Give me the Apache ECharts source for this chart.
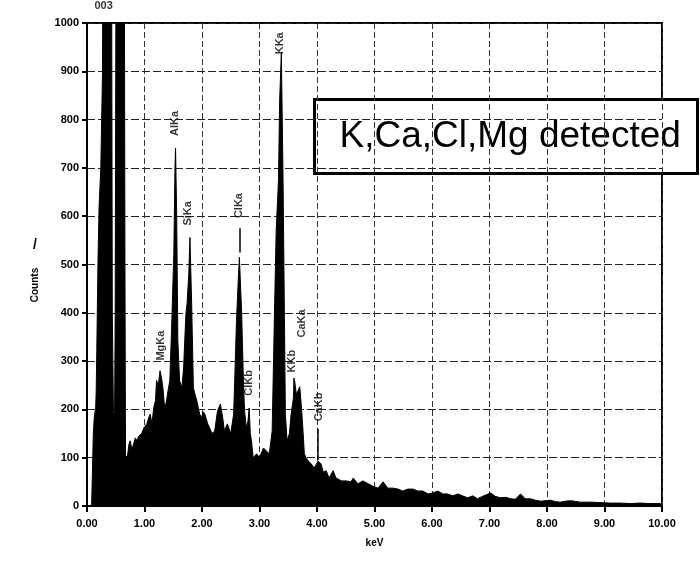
<!DOCTYPE html>
<html>
<head>
<meta charset="utf-8">
<title>EDS spectrum</title>
<script src="https://cdn.jsdelivr.net/npm/echarts@6/dist/echarts.min.js"></script>
<style>
  html, body { margin: 0; padding: 0; background: #fff; }
  #chart { width: 700px; height: 563px; }
</style>
</head>
<body>
<div id="chart"></div>
<script>
// spectrum (keV / counts)
const energy = [
  0.00, 0.08, 0.10, 0.11, 0.13, 0.15, 0.16, 0.17, 0.19, 0.21, 0.24, 0.27, 0.29, 0.36, 0.42, 0.43, 0.44, 0.46, 0.48, 0.49,
  0.50, 0.52, 0.57, 0.63, 0.65, 0.66, 0.67, 0.70, 0.73, 0.75, 0.78, 0.81, 0.84, 0.87, 0.90, 0.95, 0.99, 1.04, 1.08, 1.10,
  1.13, 1.16, 1.19, 1.21, 1.24, 1.27, 1.30, 1.32, 1.35, 1.38, 1.40, 1.44, 1.47, 1.51, 1.53, 1.54, 1.56, 1.58, 1.61, 1.65,
  1.68, 1.72, 1.74, 1.77, 1.79, 1.82, 1.85, 1.88, 1.91, 1.96, 1.99, 2.02, 2.05, 2.10, 2.14, 2.17, 2.22, 2.27, 2.32, 2.36,
  2.39, 2.44, 2.50, 2.55, 2.57, 2.60, 2.63, 2.65, 2.69, 2.72, 2.74, 2.77, 2.80, 2.82, 2.84, 2.86, 2.89, 2.95, 3.00, 3.04,
  3.07, 3.12, 3.17, 3.22, 3.26, 3.29, 3.33, 3.35, 3.38, 3.41, 3.43, 3.45, 3.48, 3.52, 3.55, 3.59, 3.61, 3.64, 3.67, 3.70,
  3.73, 3.76, 3.78, 3.81, 3.85, 3.90, 3.95, 3.99, 4.02, 4.07, 4.11, 4.16, 4.21, 4.28, 4.33, 4.38, 4.42, 4.51, 4.59, 4.63,
  4.71, 4.80, 4.89, 4.97, 5.06, 5.15, 5.23, 5.32, 5.41, 5.49, 5.58, 5.67, 5.75, 5.84, 5.93, 6.01, 6.10, 6.19, 6.27, 6.36,
  6.45, 6.53, 6.62, 6.71, 6.79, 6.88, 7.02, 7.10, 7.19, 7.28, 7.37, 7.45, 7.54, 7.62, 7.71, 7.80, 7.89, 8.06, 8.15, 8.23,
  8.32, 8.41, 8.58, 8.75, 8.93, 9.10, 9.27, 9.45, 9.62, 9.79, 9.97, 10.00
]
const counts = [
  0, 0, 0, 150, 190, 200, 240, 320, 500, 620, 700, 900, 2000, 3000, 2000, 1000, 400, 190, 195, 400,
  900, 2000, 3000, 2000, 1100, 500, 105, 100, 128, 135, 118, 128, 141, 135, 145, 150, 162, 170, 185, 190,
  170, 203, 218, 260, 250, 280, 262, 245, 203, 215, 232, 260, 363, 523, 700, 741, 600, 342, 260, 245,
  286, 398, 419, 480, 556, 420, 245, 230, 218, 190, 183, 195, 190, 170, 160, 150, 155, 197, 211, 183,
  155, 170, 150, 190, 265, 384, 467, 515, 398, 260, 197, 162, 176, 203, 150, 135, 100, 108, 100, 112,
  120, 114, 108, 155, 398, 570, 674, 840, 938, 674, 431, 190, 135, 150, 190, 224, 260, 232, 238, 247,
  203, 150, 108, 100, 93, 87, 79, 87, 93, 87, 70, 73, 58, 73, 58, 55, 52, 52, 50, 58,
  46, 52, 46, 41, 37, 50, 37, 37, 35, 31, 35, 35, 31, 31, 25, 27, 31, 25, 25, 21,
  25, 21, 17, 21, 15, 20, 27, 20, 17, 18, 15, 14, 25, 15, 15, 12, 10, 12, 9, 8,
  10, 11, 8, 8, 7, 6, 6, 5, 6, 5, 5, 5
]

// peak identification labels
const peakNames = ['003', 'MgKa', 'AlKa', 'SiKa', 'ClKa', 'ClKb', 'KKa', 'KKb', 'CaKa', 'CaKb']
const peakEnergy = [0.29, 1.28, 1.53, 1.75, 2.65, 2.81, 3.36, 3.57, 3.74, 4.04]
const peakLabelY = [1035, 332, 792, 606, 622, 255, 958, 300, 378, 205]

// short leader lines under some labels: [keV, from, to]
const leaders = [
  [2.65, 575, 525],
  [3.60, 265, 225],
  [4.02, 160, 95]
]

const boxText = 'K,Ca,Cl,Mg detected'

const chart = echarts.init(document.getElementById('chart'))
const FONT = 'Liberation Sans, Arial, sans-serif'
const tickFont = { color: '#000', fontSize: 11, fontWeight: 'bold', fontFamily: FONT }

// label data, the top "003" mark stays horizontal
const labelData = peakEnergy.map((e, i) => ({
  value: [e, peakLabelY[i]],
  name: peakNames[i],
  label: { rotate: i === 0 ? 0 : 90 }
}))

chart.setOption({
  animation: false,
  backgroundColor: '#fff',
  grid: {
    left: 87, right: 38, top: 23, bottom: 57,
    show: true, borderColor: '#000', borderWidth: 2
  },
  xAxis: {
    type: 'value',
    min: 0, max: 10, interval: 1,
    name: 'keV',
    nameLocation: 'middle',
    nameGap: 32,
    nameTextStyle: { color: '#000', fontSize: 10, fontWeight: 'bold', fontFamily: FONT },
    axisLine: { lineStyle: { color: '#000', width: 2 } },
    axisTick: { show: true, length: 6, lineStyle: { color: '#000', width: 2 } },
    axisLabel: { ...tickFont, margin: 12, formatter: v => v.toFixed(2) },
    splitLine: { show: true, lineStyle: { color: '#333', width: 1, type: [6, 3] } }
  },
  yAxis: {
    type: 'value',
    min: 0, max: 1000, interval: 100,
    axisLine: { show: true, lineStyle: { color: '#000', width: 2 } },
    axisTick: { show: true, length: 5, lineStyle: { color: '#000', width: 2 } },
    axisLabel: { ...tickFont, margin: 8, formatter: v => String(v) },
    splitLine: { show: true, lineStyle: { color: '#222', width: 1, type: [8, 3] } }
  },
  series: [
    {
      type: 'line',
      data: energy.map((e, i) => [e, counts[i]]),
      symbol: 'none',
      clip: true,
      lineStyle: { color: '#000', width: 1 },
      areaStyle: { color: '#000', opacity: 1 },
      z: 2
    },
    {
      type: 'scatter',
      data: labelData,
      symbolSize: 0,
      clip: false,
      label: {
        show: true,
        position: 'inside',
        formatter: p => p.name,
        color: '#000',
        fontSize: 11,
        fontWeight: 'bold',
        fontFamily: FONT
      },
      markLine: {
        silent: true,
        symbol: 'none',
        label: { show: false },
        lineStyle: { color: '#000', width: 1.5, type: 'solid' },
        data: leaders.map(l => [{ coord: [l[0], l[1]] }, { coord: [l[0], l[2]] }])
      },
      z: 3
    }
  ],
  graphic: [
    {
      type: 'text',
      x: 35, y: 285,
      rotation: Math.PI / 2,
      style: { text: 'Counts', fontSize: 10, fontWeight: 'bold', fill: '#000', fontFamily: FONT, align: 'center', verticalAlign: 'middle' }
    },
    {
      type: 'text',
      left: 33, top: 238,
      style: { text: '/', fontSize: 14, fontWeight: 'bold', fill: '#000', fontFamily: FONT }
    },
    {
      type: 'group',
      left: 313, top: 98,
      z: 100,
      children: [
        {
          type: 'rect',
          shape: { x: 0, y: 0, width: 383, height: 74 },
          style: { fill: '#fff', stroke: '#000', lineWidth: 3 }
        },
        {
          type: 'text',
          x: 25, y: 37,
          style: { text: boxText, fontSize: 37, fill: '#000', fontFamily: FONT, verticalAlign: 'middle' }
        }
      ]
    }
  ]
})
</script>
</body>
</html>
